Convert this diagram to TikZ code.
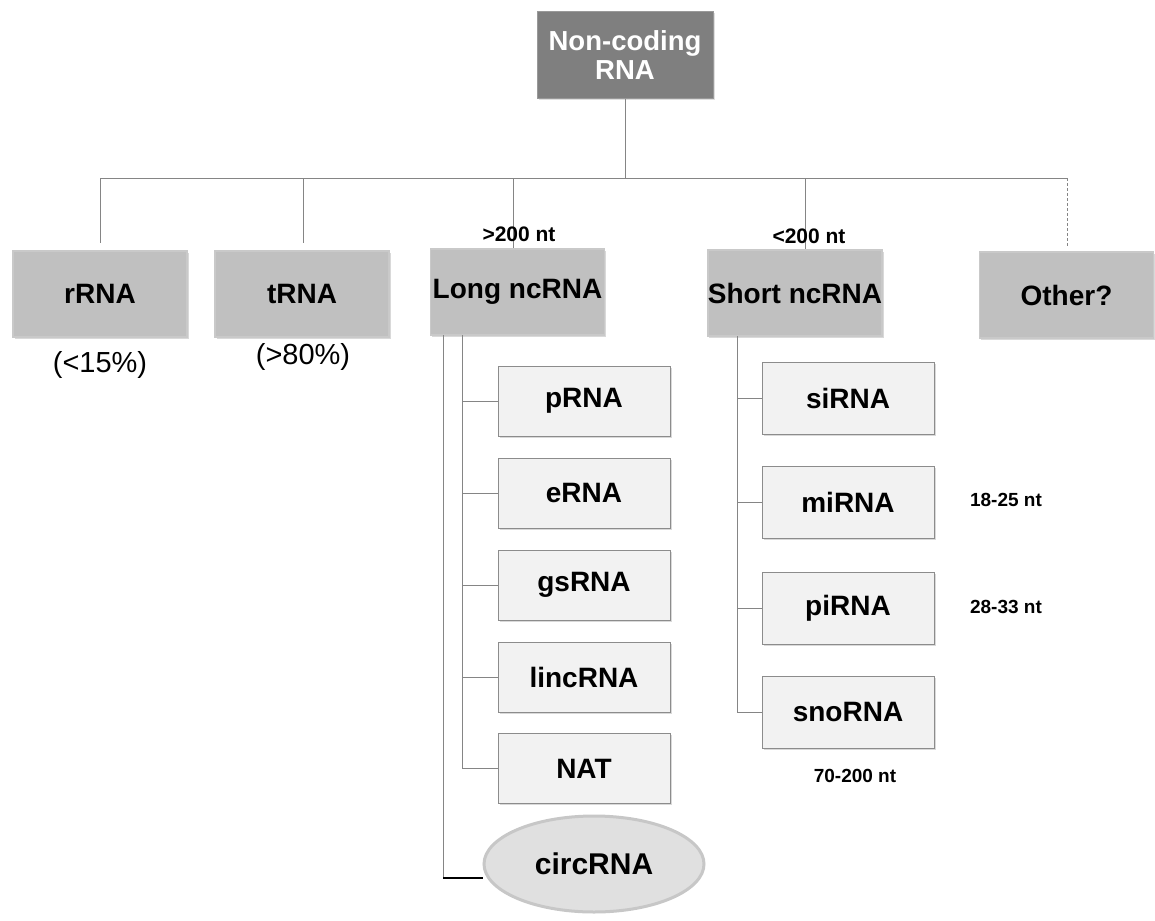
\documentclass[tikz,border=0pt]{standalone}
\usepackage{fontspec}
\setmainfont{Liberation Sans}
\usetikzlibrary{shadows,shapes.geometric}
\definecolor{rootfill}{HTML}{7F7F7F}
\definecolor{midfill}{HTML}{C0C0C0}
\definecolor{leaffill}{HTML}{F2F2F2}
\definecolor{linecol}{HTML}{858585}
\begin{document}
\begin{tikzpicture}[x=1pt,y=-1pt,
  rootbox/.style={rectangle, fill=rootfill, draw=rootfill!80!white, line width=1pt,
    minimum width=176pt, minimum height=87pt, inner sep=0pt, align=center,
    text=white, font=\fontsize{27.5}{29}\selectfont\bfseries,
    drop shadow={opacity=0.25, shadow xshift=1.5pt, shadow yshift=-1.5pt}},
  midbox/.style={rectangle, fill=midfill, draw=midfill!85!white, line width=1.5pt,
    minimum width=174pt, minimum height=86pt, inner sep=0pt,
    font=\fontsize{28}{30}\selectfont\bfseries,
    drop shadow={opacity=0.3, shadow xshift=1.5pt, shadow yshift=-1.5pt}},
  leafbox/.style={rectangle, fill=leaffill, draw=black!45, line width=1pt,
    minimum width=172pt, minimum height=70pt, inner sep=0pt,
    font=\fontsize{28}{30}\selectfont\bfseries,
    drop shadow={opacity=0.3, shadow xshift=1.5pt, shadow yshift=-1.5pt}},
  conn/.style={draw=linecol, line width=1pt},
  smalllbl/.style={font=\fontsize{19}{21}\selectfont\bfseries, inner sep=0pt},
  pctlbl/.style={font=\fontsize{29}{31}\selectfont, inner sep=0pt}
]
\useasboundingbox (0,0) rectangle (1155,920);

% root
\node[rootbox] (root) at (625,55.5) {Non-coding\\RNA};

% level 2
\node[midbox] (rRNA)  at (100,294)   {rRNA};
\node[midbox] (tRNA)  at (302,294)   {tRNA};
\node[midbox] (long)  at (517.5,292) {Long ncRNA};
\node[midbox] (short) at (795,293)   {Short ncRNA};
\node[midbox] (other) at (1066.5,295) {Other?};

% bus
\coordinate (bus) at (625,178);
\coordinate (busL) at (100,178);
\coordinate (busR) at (1067,178);
\coordinate (dLong) at (513,178);
\coordinate (dShort) at (805,178);
\coordinate (dtRNA) at (303,178);

\draw[conn] (root.south) -- (bus);
\draw[conn] (busL) -- (busR);
\draw[conn] (busL) -- ([yshift=7pt]rRNA.north);
\draw[conn] (dtRNA) -- ([yshift=7pt]tRNA.north -| dtRNA);
\draw[conn] (dLong) -- (long.north -| dLong);
\draw[conn] (dShort) -- (short.north -| dShort);
\draw[conn, dash pattern=on 3pt off 2pt] (busR) -- ([yshift=5pt]other.north -| busR);

% labels
\node[pctlbl] (pct1) at (100,365) {(<15\%)};
\node[pctlbl] (pct2) at (303,357) {(>80\%)};
\node[smalllbl, font=\fontsize{21}{23}\selectfont\bfseries] (gt200) at (519,234) {>200 nt};
\node[smalllbl, font=\fontsize{21}{23}\selectfont\bfseries] (lt200) at (809,236) {<200 nt};

% long ncRNA children
\node[leafbox] (pRNA)    at (584,401)   {pRNA};
\node[leafbox] (eRNA)    at (584,493)   {eRNA};
\node[leafbox] (gsRNA)   at (584,585)   {gsRNA};
\node[leafbox] (lincRNA) at (584,677)   {lincRNA};
\node[leafbox] (NAT)     at (584,768.5) {NAT};
\node[ellipse, fill=black!12, draw=black!22, line width=3pt,
      minimum width=220pt, minimum height=96pt, inner sep=0pt,
      font=\fontsize{30}{32}\selectfont\bfseries] (circ) at (594,864) {circRNA};

\coordinate (lv) at (462,335);
\coordinate (lc) at (443,335);
\draw[conn] (lv) |- (NAT.west);
\foreach \n in {pRNA,eRNA,gsRNA,lincRNA}
  \draw[conn] (\n.west) -- (\n.west -| lv);
\draw[conn] (lc) -- (lc |- 0,878);
\draw[black, line width=1.8pt] (lc |- 0,878) -- (circ.west |- 0,878);

% short ncRNA children
\node[leafbox, minimum height=72pt] (siRNA)  at (848,398) {siRNA};
\node[leafbox, minimum height=72pt] (miRNA)  at (848,502) {miRNA};
\node[leafbox, minimum height=72pt] (piRNA)  at (848,608) {piRNA};
\node[leafbox, minimum height=72pt] (snoRNA) at (848,712) {snoRNA};

\coordinate (sv) at (737,336);
\draw[conn] (sv) |- (snoRNA.west);
\foreach \n in {siRNA,miRNA,piRNA}
  \draw[conn] (\n.west) -- (\n.west -| sv);

\node[smalllbl] (l1825) at (1006,500) {18-25 nt};
\node[smalllbl] (l2833) at (1006,607) {28-33 nt};
\node[smalllbl] (l70) at (855,776) {70-200 nt};
\end{tikzpicture}
\end{document}
